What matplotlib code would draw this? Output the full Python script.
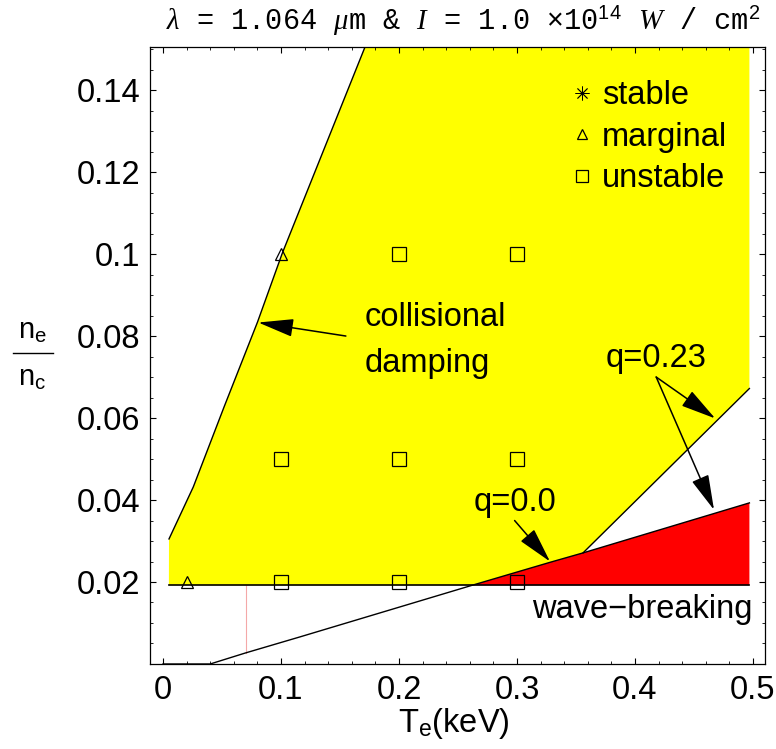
import matplotlib
matplotlib.use('Agg')
import matplotlib.pyplot as plt
from matplotlib.lines import Line2D

plt.rcParams['font.family'] = ['Liberation Sans', 'DejaVu Sans']
plt.rcParams['mathtext.fontset'] = 'custom'
plt.rcParams['mathtext.rm'] = 'Liberation Sans'
plt.rcParams['mathtext.it'] = 'Liberation Serif:italic'

# collisional damping boundary
te_coll = [0.0051, 0.0257, 0.0519, 0.0801, 0.1011, 0.1712]
ne_coll = [0.0305, 0.0432, 0.0628, 0.0834, 0.1002, 0.1505]
# q = 0.0 boundary
te_q0 = [0.0, 0.04, 0.07, 0.116, 0.262, 0.328, 0.356, 0.497]
ne_q0 = [0.0, 0.0, 0.0027, 0.0066, 0.0192, 0.0248, 0.0271, 0.0393]
# q = 0.23 boundary
te_q23 = [0.356, 0.497]
ne_q23 = [0.0271, 0.0672]
# wave-breaking threshold
te_wb = [0.005, 0.497]
ne_wb = [0.0192, 0.0192]
te_mark = 0.07

# simulation points
te_marginal = [0.02, 0.1]
ne_marginal = [0.02, 0.1]
te_unstable = [0.2, 0.3, 0.1, 0.2, 0.3, 0.1, 0.2, 0.3]
ne_unstable = [0.1, 0.1, 0.05, 0.05, 0.05, 0.02, 0.02, 0.02]

xticks = [0, 0.1, 0.2, 0.3, 0.4, 0.5]
xticklabels = ['0', '0.1', '0.2', '0.3', '0.4', '0.5']
yticks = [0.02, 0.04, 0.06, 0.08, 0.1, 0.12, 0.14]
yticklabels = ['0.02', '0.04', '0.06', '0.08', '0.1', '0.12', '0.14']

fig = plt.figure(figsize=(7.76, 7.49), dpi=100)
ax = fig.add_axes([0.1933, 0.1135, 0.7925, 0.8237])
ytop = 0.1505

# yellow region: wave-breaking line, collisional curve, top, right edge, q=0.23, q=0.0
yx = [te_wb[0]] + te_coll + [te_q23[1], te_q23[1], te_q23[0], te_q0[5], te_q0[4]]
yy = [ne_wb[0]] + ne_coll + [ytop, ne_q23[1], ne_q23[0], ne_q0[5], ne_q0[4]]
ax.fill(yx, yy, color='#ffff00', lw=0, zorder=1)

# red region
rx = te_q0[4:] + [te_q0[-1]]
ry = ne_q0[4:] + [ne_wb[0]]
ax.fill(rx, ry, color='#ff0000', lw=0, zorder=1)

ax.plot([te_mark, te_mark], [0.0028, ne_wb[0]], color='#f4a8a8', lw=0.8, zorder=2)
ax.plot(te_coll, ne_coll, color='black', lw=1.0, zorder=3)
ax.plot(te_q0, ne_q0, color='black', lw=1.0, zorder=3)
ax.plot(te_q23, ne_q23, color='black', lw=1.0, zorder=3)
ax.plot(te_wb, ne_wb, color='black', lw=1.2, zorder=3)

ax.plot(te_marginal, ne_marginal, ls='none', marker='^', ms=8, mfc='none', mec='black', mew=0.9, zorder=4)
ax.plot(te_unstable, ne_unstable, ls='none', marker='s', ms=9.6, mfc='none', mec='black', mew=0.9, zorder=4)

ap = dict(arrowstyle='-|>,head_length=1.1,head_width=0.28', mutation_scale=20,
          color='black', lw=1.1, shrinkA=0, shrinkB=0)
ax.annotate('', xy=(0.0808, 0.0833), xytext=(0.155, 0.080), arrowprops=ap, zorder=5)
ax.annotate('', xy=(0.328, 0.0250), xytext=(0.298, 0.0350), arrowprops=ap, zorder=5)
ax.annotate('', xy=(0.468, 0.0599), xytext=(0.418, 0.0700), arrowprops=ap, zorder=5)
ax.annotate('', xy=(0.467, 0.0376), xytext=(0.418, 0.0700), arrowprops=ap, zorder=5)

fs = 23.5
ax.text(0.171, 0.0825, 'collisional', fontsize=fs, ha='left', va='baseline', zorder=6)
ax.text(0.171, 0.0713, 'damping', fontsize=fs, ha='left', va='baseline', zorder=6)
ax.text(0.298, 0.0372, 'q=0.0', fontsize=fs, ha='center', va='baseline', zorder=6)
ax.text(0.418, 0.0724, 'q=0.23', fontsize=fs, ha='center', va='baseline', zorder=6)
ax.text(0.500, 0.0112, 'wave\u2212breaking', fontsize=fs, ha='right', va='baseline', zorder=6)

handles = [
    Line2D([], [], ls='none', marker=(8, 2, 0), ms=10, mec='black', mew=0.6, label='stable'),
    Line2D([], [], ls='none', marker='^', ms=7.5, mfc='none', mec='black', mew=0.9, label='marginal'),
    Line2D([], [], ls='none', marker='s', ms=9, mfc='none', mec='black', mew=0.9, label='unstable'),
]
ax.legend(handles=handles, loc='upper left', bbox_to_anchor=(0.687, 0.946), frameon=False,
          fontsize=fs, handlelength=0.6, handletextpad=0.3, labelspacing=0.32,
          borderpad=0, borderaxespad=0)

ax.set_xlim(-0.011, 0.5102)
ax.set_ylim(0, ytop)
ax.set_xticks(xticks)
ax.set_xticklabels(xticklabels)
ax.set_yticks(yticks)
ax.set_yticklabels(yticklabels)
ax.set_xticks([i * 0.02 for i in range(26)], minor=True)
ax.set_yticks([i * 0.005 for i in range(31)], minor=True)
ax.tick_params(which='both', direction='in', top=True, right=True, labelsize=fs)
ax.tick_params(axis='x', which='major', pad=8)
ax.tick_params(axis='y', which='major', pad=7)
ax.tick_params(which='major', length=4, width=0.8)
ax.tick_params(which='minor', length=2, width=0.6)
for s in ax.spines.values():
    s.set_linewidth(0.9)

ax.text(0.509, 1.0275,
        r'$\lambda$ = 1.064 $\mu$m & $I$ = 1.0 $\times$10$^{14}$ $W$ / cm$^2$',
        transform=ax.transAxes, ha='center', va='baseline', fontsize=20.6,
        family=['Liberation Mono', 'DejaVu Sans Mono'])

# x label
fig.text(454 / 776, 1 - 732 / 749, r'T$_\mathrm{e}$(keV)', ha='center', va='baseline', fontsize=fs)

# y label as a stacked fraction
fig.text(32 / 776, 1 - 339 / 749, r'n$_\mathrm{e}$', ha='center', va='baseline', fontsize=21)
fig.text(32 / 776, 1 - 386 / 749, r'n$_\mathrm{c}$', ha='center', va='baseline', fontsize=21)
fig.add_artist(Line2D([13 / 776, 53 / 776], [1 - 353 / 749, 1 - 353 / 749], color='black', lw=1.0))

fig.savefig('out.png', dpi=100)
